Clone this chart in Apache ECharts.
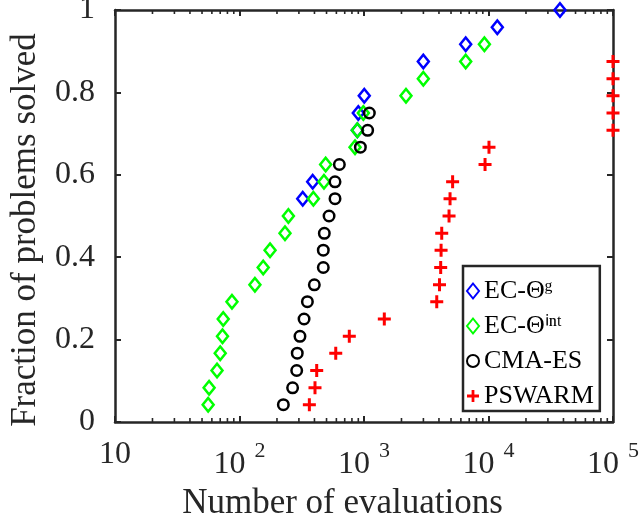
<!DOCTYPE html>
<html>
<head>
<meta charset="utf-8">
<script src="https://cdn.jsdelivr.net/npm/echarts@6/dist/echarts.min.js"></script>
<style>
  html, body { margin: 0; padding: 0; background: #fff; }
  #chart { width: 639px; height: 520px; }
</style>
</head>
<body>
<div id="chart"></div>
<script>
// Performance profile: fraction of problems solved vs. number of evaluations
const yTicks = [0, 0.2, 0.4, 0.6, 0.8, 1];
const xTicks = [10, 100, 1000, 10000, 100000];

const ecGX = [322, 387, 884, 900, 1005, 2995, 6560, 11770, 37500];
const ecGY = [0.542, 0.583, 0.708, 0.75, 0.792, 0.875, 0.917, 0.958, 1.0];

const ecIntX = [56, 57, 66, 70, 73, 74, 87, 133, 155, 176, 232, 247, 392, 477, 492, 847, 884, 988, 2174, 2995, 6560, 9270];
const ecIntY = [0.042, 0.083, 0.125, 0.167, 0.208, 0.25, 0.292, 0.333, 0.375, 0.417, 0.458, 0.5, 0.542, 0.583, 0.625, 0.667, 0.708, 0.75, 0.792, 0.833, 0.875, 0.917];

const cmaX = [225, 267, 288, 291, 306, 330, 351, 399, 471, 471, 480, 524, 585, 585, 634, 935, 1070, 1104];
const cmaY = [0.042, 0.083, 0.125, 0.167, 0.208, 0.25, 0.292, 0.333, 0.375, 0.417, 0.458, 0.5, 0.542, 0.583, 0.625, 0.667, 0.708, 0.75];

const pswX = [364, 404, 417, 593, 762, 1456, 3840, 4040, 4130, 4160, 4210, 4820, 4910, 5150, 9380, 10090, 100000, 100000, 100000, 100000, 100000];
const pswY = [0.042, 0.083, 0.125, 0.167, 0.208, 0.25, 0.292, 0.333, 0.375, 0.417, 0.458, 0.5, 0.542, 0.583, 0.625, 0.667, 0.708, 0.75, 0.792, 0.833, 0.875];

const seriesNames = ['EC-Θᵍ', 'EC-Θⁱⁿᵗ', 'CMA-ES', 'PSWARM'];

const zip = (xs, ys) => xs.map((x, i) => [x, ys[i]]);

// log-axis minor tick positions (2..9 x 10^k)
const minorTicks = [];
for (let e = 1; e < 5; e++) {
  for (let m = 2; m <= 9; m++) minorTicks.push([m * Math.pow(10, e), 0]);
}

const AX = '#262626';
const FONT = 'Liberation Serif';
const PLUS = 'path://M5,0H8V5H13V8H8V13H5V8H0V5H5Z';

function logAxis(position) {
  return {
    type: 'log', logBase: 10, position: position,
    min: xTicks[0], max: xTicks[xTicks.length - 1],
    splitLine: { show: false },
    axisLine: { show: true, onZero: false, lineStyle: { color: AX, width: 2.5 } },
    axisTick: { show: true, inside: true, length: 6, lineStyle: { color: AX, width: 2 } },
    axisLabel: { show: false }
  };
}
function fracAxis(position) {
  return {
    type: 'value', position: position,
    min: yTicks[0], max: yTicks[yTicks.length - 1], interval: 0.2,
    splitLine: { show: false },
    axisLine: { show: true, onZero: false, lineStyle: { color: AX, width: 2.5 } },
    axisTick: { show: true, inside: true, length: 6, lineStyle: { color: AX, width: 2 } },
    axisLabel: { show: false }
  };
}

const xBottom = logAxis('bottom');
xBottom.name = 'Number of evaluations';
xBottom.nameLocation = 'middle';
xBottom.nameGap = 58;
xBottom.nameTextStyle = { fontFamily: FONT, fontSize: 35, color: AX, padding: [0, 43, 0, 0] };
xBottom.axisLabel = {
  show: true, margin: 18, fontFamily: FONT, color: AX,
  formatter: function (v) {
    const p = Math.round(Math.log10(v));
    return p === 1 ? '{a|10}' : '{b|10}{e|' + p + '}';
  },
  rich: {
    a: { fontSize: 32, lineHeight: 30 },
    b: { fontSize: 32, lineHeight: 34, verticalAlign: 'bottom' },
    e: { fontSize: 22, padding: [0, 0, 19, 9], verticalAlign: 'bottom' }
  }
};

const yLeft = fracAxis('left');
yLeft.name = 'Fraction of problems solved';
yLeft.nameLocation = 'middle';
yLeft.nameGap = 72;
yLeft.nameTextStyle = { fontFamily: FONT, fontSize: 35, color: AX, padding: [0, 28, 0, 0] };
yLeft.axisLabel = { show: true, margin: 20, fontFamily: FONT, fontSize: 32, color: AX };

const chart = echarts.init(document.getElementById('chart'));

chart.setOption({
  animation: false,
  grid: { left: 115, right: 26, top: 10, bottom: 98, outerBoundsMode: 'none' },
  xAxis: [xBottom, logAxis('top')],
  yAxis: [yLeft, fracAxis('right')],
  legend: {
    data: seriesNames,
    orient: 'vertical',
    left: 463, top: 266,
    itemWidth: 12, itemHeight: 15, itemGap: 5,
    padding: [10, 6, 0, 3],
    borderColor: AX, borderWidth: 2.5, backgroundColor: '#fff',
    textStyle: { fontFamily: FONT, fontSize: 26, lineHeight: 30, color: '#000' }
  },
  series: [
    {
      type: 'custom', name: 'minor', silent: true,
      data: minorTicks,
      encode: { x: 0, y: 1 },
      renderItem: function (params, api) {
        const v = api.value(0);
        const b = api.coord([v, yTicks[0]]);
        const t = api.coord([v, yTicks[yTicks.length - 1]]);
        return {
          type: 'group',
          children: [
            { type: 'line', shape: { x1: b[0], y1: b[1], x2: b[0], y2: b[1] - 4 }, style: { stroke: AX, lineWidth: 1.6 } },
            { type: 'line', shape: { x1: t[0], y1: t[1], x2: t[0], y2: t[1] + 4 }, style: { stroke: AX, lineWidth: 1.6 } }
          ]
        };
      }
    },
    {
      name: seriesNames[0], type: 'scatter', data: zip(ecGX, ecGY),
      symbol: 'diamond', symbolSize: [11, 13.5],
      itemStyle: { color: 'transparent', borderColor: '#0000ff', borderWidth: 2.5, opacity: 1 }
    },
    {
      name: seriesNames[1], type: 'scatter', data: zip(ecIntX, ecIntY),
      symbol: 'diamond', symbolSize: [11, 13.5],
      itemStyle: { color: 'transparent', borderColor: '#00ff00', borderWidth: 2.5, opacity: 1 }
    },
    {
      name: seriesNames[2], type: 'scatter', data: zip(cmaX, cmaY),
      symbol: 'circle', symbolSize: 10.5,
      itemStyle: { color: 'transparent', borderColor: '#000000', borderWidth: 2.5, opacity: 1 }
    },
    {
      name: seriesNames[3], type: 'scatter', data: zip(pswX, pswY),
      symbol: PLUS, symbolSize: 13,
      itemStyle: { color: '#ff0000', borderWidth: 0, opacity: 1 }
    }
  ]
});
</script>
</body>
</html>
